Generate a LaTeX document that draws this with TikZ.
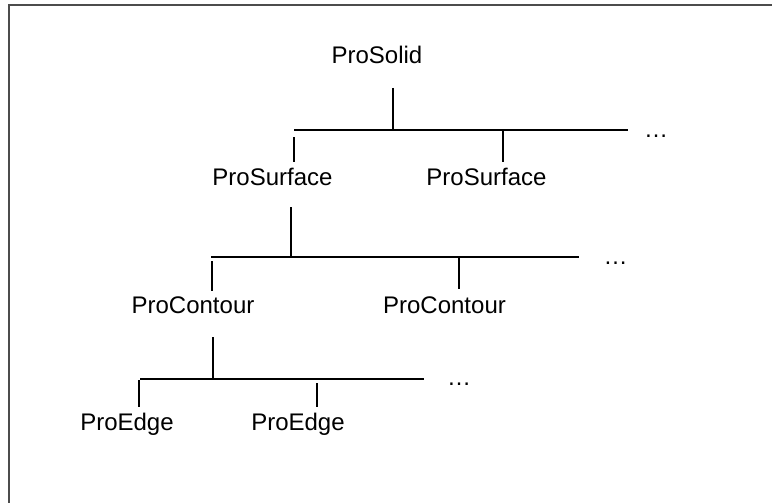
\documentclass[tikz,border=0pt]{standalone}
\usepackage{fontspec}
\setmainfont{Liberation Sans}
\usepackage{xcolor}

\tikzset{lbl/.style={anchor=base,inner sep=0pt,font=\fontsize{24}{28}\selectfont},
  tree/.style={black,line width=1.6pt},
  more/.style={anchor=base,inner sep=0pt,font=\fontsize{24}{28}\selectfont}}

\begin{document}
\begin{tikzpicture}[x=1pt,y=-1pt]
\useasboundingbox (0,0) rectangle (772,503);
\draw [black!70,line width=2pt](8.5,503)--(8.5,5)--(772,5);

% the names
\node[lbl] (solid) at (377,64) {ProSolid};
\node[lbl] (surfA) at (272.5,185) {ProSurface};
\node[lbl] (surfB) at (486.5,185) {ProSurface};
\node[lbl] (contA) at (193,313) {ProContour};
\node[lbl] (contB) at (444.5,313) {ProContour};
\node[lbl] (edgeA) at (127,430) {ProEdge};
\node[lbl] (edgeB) at (298,430) {ProEdge};
\node[more] (dotsA) at (656,137) {…};
\node[more] (dotsB) at (615.5,264) {…};
\node[more] (dotsC) at (459,385) {…};

% level 1
\coordinate (j1) at (393,130);
\coordinate (j1l) at (294,130);
\coordinate (j1r) at (628,130);
\coordinate (j1a) at (294,137);
\coordinate (j1b) at (503,130);
\draw [tree]([yshift=-24pt]solid.base -| j1)--(j1);
\draw [tree](j1l)--(j1r);
\draw [tree](j1a)--([yshift=5pt]surfA.north -| j1a);
\draw [tree](j1b)--([yshift=5pt]surfB.north -| j1b);

% level 2
\coordinate (j2) at (291,257);
\coordinate (j2l) at (211,257);
\coordinate (j2r) at (579,257);
\coordinate (j2a) at (212,261);
\coordinate (j2b) at (459,257);
\draw [tree]([yshift=-22pt]surfA.base -| j2)--(j2);
\draw [tree](j2l)--(j2r);
\draw [tree](j2a)--([yshift=5pt]contA.north -| j2a);
\draw [tree](j2b)--([yshift=7pt]contB.north -| j2b);

% level 3
\coordinate (j3) at (213,379);
\coordinate (j3l) at (140,379);
\coordinate (j3r) at (424,379);
\coordinate (j3a) at (139,380);
\coordinate (j3b) at (317,383);
\draw [tree]([yshift=-24pt]contA.base -| j3)--(j3);
\draw [tree](j3l)--(j3r);
\draw [tree](j3a)--([yshift=5pt]edgeA.north -| j3a);
\draw [tree](j3b)--([yshift=5pt]edgeB.north -| j3b);
\end{tikzpicture}
\end{document}
